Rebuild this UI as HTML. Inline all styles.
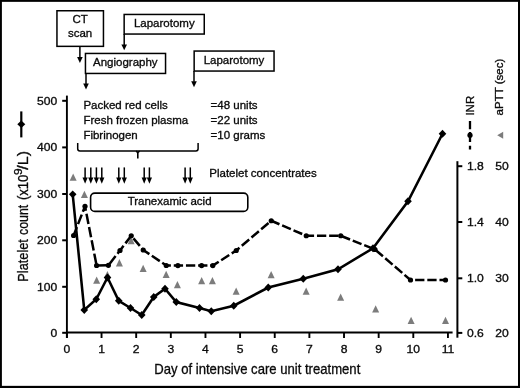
<!DOCTYPE html>
<html lang="en"><head><meta charset="utf-8"><title>Platelet count, INR and aPTT during intensive care unit treatment</title>
<style>
html,body{margin:0;padding:0;background:#fff;}
body{width:520px;height:388px;overflow:hidden;}
svg{display:block;}
text{font-family:"Liberation Sans",sans-serif;fill:#0a0a0a;stroke:#0a0a0a;stroke-width:0.32px;}
.t{font-size:11.5px;}
</style></head><body>
<svg width="520" height="388" viewBox="0 0 520 388">
<rect x="0" y="0" width="520" height="388" fill="#fff"/>
<g>

<rect x="0" y="0" width="520" height="1.85" fill="#000"/>
<rect x="0" y="0" width="1.9" height="388" fill="#000"/>
<rect x="518" y="0" width="2" height="388" fill="#000"/>
<rect x="0" y="385.85" width="520" height="2.15" fill="#000"/>
<path d="M79.90 46.00V57.50" stroke="#000" stroke-width="1.5" fill="none"/>
<path d="M77.10 57.00L82.70 57.00L79.90 62.90Z" fill="#000"/>
<path d="M124.20 34.00V44.90" stroke="#000" stroke-width="1.5" fill="none"/>
<path d="M121.40 44.40L127.00 44.40L124.20 50.30Z" fill="#000"/>
<path d="M86.00 73.00V84.00" stroke="#000" stroke-width="1.5" fill="none"/>
<path d="M83.20 83.50L88.80 83.50L86.00 89.40Z" fill="#000"/>
<path d="M194.00 71.00V81.80" stroke="#000" stroke-width="1.5" fill="none"/>
<path d="M191.20 81.30L196.80 81.30L194.00 87.20Z" fill="#000"/>
<rect x="56.95" y="10.75" width="46.50" height="35.60" rx="0" fill="#fff" stroke="#000" stroke-width="1.5"/>
<rect x="124.15" y="14.45" width="80.10" height="19.60" rx="0" fill="#fff" stroke="#000" stroke-width="1.5"/>
<rect x="85.45" y="53.45" width="80.10" height="20.00" rx="0" fill="#fff" stroke="#000" stroke-width="1.5"/>
<rect x="194.15" y="51.05" width="79.90" height="20.00" rx="0" fill="#fff" stroke="#000" stroke-width="1.5"/>
<text class="t" x="80.10" y="23.30" text-anchor="middle">CT</text>
<text class="t" x="80.10" y="37.00" text-anchor="middle">scan</text>
<text class="t" x="164.30" y="27.10" text-anchor="middle">Laparotomy</text>
<text class="t" x="125.30" y="65.60" text-anchor="middle">Angiography</text>
<text class="t" x="234.00" y="63.70" text-anchor="middle">Laparotomy</text>
<text class="t" x="83.40" y="108.70" text-anchor="start">Packed red cells</text>
<text class="t" x="83.40" y="123.90" text-anchor="start">Fresh frozen plasma</text>
<text class="t" x="83.40" y="139.10" text-anchor="start">Fibrinogen</text>
<text class="t" x="210.60" y="108.70" text-anchor="start">=48 units</text>
<text class="t" x="210.60" y="123.90" text-anchor="start">=22 units</text>
<text class="t" x="210.60" y="139.10" text-anchor="start">=10 grams</text>
<text class="t" x="209.30" y="176.80" text-anchor="start">Platelet concentrates</text>
<path d="M77.7 143V148.7Q77.7 150.9 79.9 150.9H195.9Q198.1 150.9 198.1 148.7V143" stroke="#000" stroke-width="1.5" fill="none"/>
<path d="M135.9 151.2Q137.8 151.6 137.8 153.6V158.5M139.7 151.2Q137.8 151.6 137.8 153.6" stroke="#000" stroke-width="1.6" fill="none"/>
<path d="M85.10 167.40V178.10" stroke="#000" stroke-width="1.5" fill="none"/>
<path d="M82.50 177.60L87.70 177.60L85.10 183.80Z" fill="#000"/>
<path d="M90.80 167.40V178.10" stroke="#000" stroke-width="1.5" fill="none"/>
<path d="M88.20 177.60L93.40 177.60L90.80 183.80Z" fill="#000"/>
<path d="M96.40 167.40V178.10" stroke="#000" stroke-width="1.5" fill="none"/>
<path d="M93.80 177.60L99.00 177.60L96.40 183.80Z" fill="#000"/>
<path d="M101.80 167.40V178.10" stroke="#000" stroke-width="1.5" fill="none"/>
<path d="M99.20 177.60L104.40 177.60L101.80 183.80Z" fill="#000"/>
<path d="M118.80 167.40V178.10" stroke="#000" stroke-width="1.5" fill="none"/>
<path d="M116.20 177.60L121.40 177.60L118.80 183.80Z" fill="#000"/>
<path d="M124.30 167.40V178.10" stroke="#000" stroke-width="1.5" fill="none"/>
<path d="M121.70 177.60L126.90 177.60L124.30 183.80Z" fill="#000"/>
<path d="M144.20 167.40V178.10" stroke="#000" stroke-width="1.5" fill="none"/>
<path d="M141.60 177.60L146.80 177.60L144.20 183.80Z" fill="#000"/>
<path d="M149.40 167.40V178.10" stroke="#000" stroke-width="1.5" fill="none"/>
<path d="M146.80 177.60L152.00 177.60L149.40 183.80Z" fill="#000"/>
<path d="M185.10 167.40V178.10" stroke="#000" stroke-width="1.5" fill="none"/>
<path d="M182.50 177.60L187.70 177.60L185.10 183.80Z" fill="#000"/>
<path d="M190.30 167.40V178.10" stroke="#000" stroke-width="1.5" fill="none"/>
<path d="M187.70 177.60L192.90 177.60L190.30 183.80Z" fill="#000"/>
<rect x="90.60" y="193.10" width="157.20" height="18.30" rx="4.2" fill="#fff" stroke="#000" stroke-width="1.6"/>
<text class="t" x="169.60" y="204.60" text-anchor="middle">Tranexamic acid</text>
<path d="M66.9 95.6V338" stroke="#000" stroke-width="1.9" fill="none"/>
<path d="M66 332.6H452.6" stroke="#000" stroke-width="2" fill="none"/>
<path d="M457.4 161.2V337.7" stroke="#000" stroke-width="2" fill="none"/>
<path d="M62.2 100.80H67" stroke="#000" stroke-width="2" fill="none"/>
<text class="t" transform="translate(57.30 104.80) scale(1.055 1)" text-anchor="end">500</text>
<path d="M62.2 147.40H67" stroke="#000" stroke-width="2" fill="none"/>
<text class="t" transform="translate(57.30 151.40) scale(1.055 1)" text-anchor="end">400</text>
<path d="M62.2 194.00H67" stroke="#000" stroke-width="2" fill="none"/>
<text class="t" transform="translate(57.30 198.00) scale(1.055 1)" text-anchor="end">300</text>
<path d="M62.2 240.30H67" stroke="#000" stroke-width="2" fill="none"/>
<text class="t" transform="translate(57.30 244.30) scale(1.055 1)" text-anchor="end">200</text>
<path d="M62.2 286.80H67" stroke="#000" stroke-width="2" fill="none"/>
<text class="t" transform="translate(57.30 290.80) scale(1.055 1)" text-anchor="end">100</text>
<path d="M62.2 332.80H67" stroke="#000" stroke-width="2" fill="none"/>
<text class="t" transform="translate(57.30 336.80) scale(1.055 1)" text-anchor="end">0</text>
<path d="M66.90 332V338" stroke="#000" stroke-width="1.9" fill="none"/>
<text class="t" transform="translate(66.90 352.70) scale(1.055 1)" text-anchor="middle">0</text>
<path d="M101.54 332V338" stroke="#000" stroke-width="1.9" fill="none"/>
<text class="t" transform="translate(101.54 352.70) scale(1.055 1)" text-anchor="middle">1</text>
<path d="M136.18 332V338" stroke="#000" stroke-width="1.9" fill="none"/>
<text class="t" transform="translate(136.18 352.70) scale(1.055 1)" text-anchor="middle">2</text>
<path d="M170.82 332V338" stroke="#000" stroke-width="1.9" fill="none"/>
<text class="t" transform="translate(170.82 352.70) scale(1.055 1)" text-anchor="middle">3</text>
<path d="M205.46 332V338" stroke="#000" stroke-width="1.9" fill="none"/>
<text class="t" transform="translate(205.46 352.70) scale(1.055 1)" text-anchor="middle">4</text>
<path d="M240.10 332V338" stroke="#000" stroke-width="1.9" fill="none"/>
<text class="t" transform="translate(240.10 352.70) scale(1.055 1)" text-anchor="middle">5</text>
<path d="M274.74 332V338" stroke="#000" stroke-width="1.9" fill="none"/>
<text class="t" transform="translate(274.74 352.70) scale(1.055 1)" text-anchor="middle">6</text>
<path d="M309.38 332V338" stroke="#000" stroke-width="1.9" fill="none"/>
<text class="t" transform="translate(309.38 352.70) scale(1.055 1)" text-anchor="middle">7</text>
<path d="M344.02 332V338" stroke="#000" stroke-width="1.9" fill="none"/>
<text class="t" transform="translate(344.02 352.70) scale(1.055 1)" text-anchor="middle">8</text>
<path d="M378.66 332V338" stroke="#000" stroke-width="1.9" fill="none"/>
<text class="t" transform="translate(378.66 352.70) scale(1.055 1)" text-anchor="middle">9</text>
<path d="M413.30 332V338" stroke="#000" stroke-width="1.9" fill="none"/>
<text class="t" transform="translate(413.30 352.70) scale(1.055 1)" text-anchor="middle">10</text>
<path d="M447.94 332V338" stroke="#000" stroke-width="1.9" fill="none"/>
<text class="t" transform="translate(447.94 352.70) scale(1.055 1)" text-anchor="middle">11</text>
<path d="M457 166.20H462.3" stroke="#000" stroke-width="2" fill="none"/>
<text class="t" transform="translate(467.00 170.20) scale(1.055 1)" text-anchor="start">1.8</text>
<text class="t" transform="translate(495.20 170.20) scale(1.055 1)" text-anchor="start">50</text>
<path d="M457 222.00H462.3" stroke="#000" stroke-width="2" fill="none"/>
<text class="t" transform="translate(467.00 226.00) scale(1.055 1)" text-anchor="start">1.4</text>
<text class="t" transform="translate(495.20 226.00) scale(1.055 1)" text-anchor="start">40</text>
<path d="M457 278.30H462.3" stroke="#000" stroke-width="2" fill="none"/>
<text class="t" transform="translate(467.00 282.30) scale(1.055 1)" text-anchor="start">1.0</text>
<text class="t" transform="translate(495.20 282.30) scale(1.055 1)" text-anchor="start">30</text>
<path d="M457 332.90H462.3" stroke="#000" stroke-width="2" fill="none"/>
<text class="t" transform="translate(467.00 336.90) scale(1.055 1)" text-anchor="start">0.6</text>
<text class="t" transform="translate(495.20 336.90) scale(1.055 1)" text-anchor="start">20</text>
<text x="154.3" y="373.7" font-size="15" textLength="206" lengthAdjust="spacingAndGlyphs">Day of intensive care unit treatment</text>
<text transform="translate(28.30 281.70) rotate(-90)" font-size="15" textLength="42.60" lengthAdjust="spacingAndGlyphs">Platelet</text>
<text transform="translate(28.30 235.00) rotate(-90)" font-size="15" textLength="30.20" lengthAdjust="spacingAndGlyphs">count</text>
<text transform="translate(28.30 200.10) rotate(-90)" font-size="15" textLength="25.50" lengthAdjust="spacingAndGlyphs">(x10</text>
<text transform="translate(22.20 174.90) rotate(-90)" font-size="11" textLength="6.60" lengthAdjust="spacingAndGlyphs">9</text>
<text transform="translate(28.30 169.80) rotate(-90)" font-size="15" textLength="18.80" lengthAdjust="spacingAndGlyphs">/L)</text>
<text class="t" transform="translate(473.7 115.6) rotate(-90)">INR</text>
<text class="t" transform="translate(502.5 115.4) rotate(-90)">aPTT (sec)</text>
<path d="M21.3 111.4V137.4" stroke="#000" stroke-width="2.2" fill="none"/>
<path d="M21.3 120.6L25.3 124.3L21.3 128L17.3 124.3Z" fill="#000"/>
<path d="M470 121V129.3M470 131.9V141.9M470 145.8V149.6" stroke="#000" stroke-width="2.3" fill="none"/>
<circle cx="470" cy="135.2" r="2.6" fill="#000"/>
<path d="M497.2 135.2L503.2 131.7V138.7Z" fill="#7c7c7c"/>
<path d="M73.15 173.50L76.65 180.80H69.65Z" fill="#7c7c7c"/>
<path d="M84.40 190.70L87.90 198.00H80.90Z" fill="#7c7c7c"/>
<path d="M96.65 276.50L100.15 283.80H93.15Z" fill="#7c7c7c"/>
<path d="M107.40 271.00L110.90 278.30H103.90Z" fill="#7c7c7c"/>
<path d="M119.40 259.10L122.90 266.40H115.90Z" fill="#7c7c7c"/>
<path d="M131.15 237.00L134.65 244.30H127.65Z" fill="#7c7c7c"/>
<path d="M143.15 264.75L146.65 272.05H139.65Z" fill="#7c7c7c"/>
<path d="M166.15 270.75L169.65 278.05H162.65Z" fill="#7c7c7c"/>
<path d="M177.40 281.00L180.90 288.30H173.90Z" fill="#7c7c7c"/>
<path d="M201.65 277.00L205.15 284.30H198.15Z" fill="#7c7c7c"/>
<path d="M212.40 277.00L215.90 284.30H208.90Z" fill="#7c7c7c"/>
<path d="M236.15 287.50L239.65 294.80H232.65Z" fill="#7c7c7c"/>
<path d="M271.15 270.90L274.65 278.20H267.65Z" fill="#7c7c7c"/>
<path d="M306.15 287.50L309.65 294.80H302.65Z" fill="#7c7c7c"/>
<path d="M340.65 293.50L344.15 300.80H337.15Z" fill="#7c7c7c"/>
<path d="M375.65 305.25L379.15 312.55H372.15Z" fill="#7c7c7c"/>
<path d="M411.10 316.80L414.60 324.10H407.60Z" fill="#7c7c7c"/>
<path d="M445.50 316.70L449.00 324.00H442.00Z" fill="#7c7c7c"/>
<path d="M73.60 235.50L76.88 227.09M78.03 224.15L81.74 214.64M82.89 211.69L85.00 206.30M85.00 206.30L85.86 210.68M86.47 213.82L88.46 223.95M89.07 227.09L91.06 237.22M91.67 240.36L93.66 250.49M94.27 253.62L96.26 263.75M97.88 265.48L107.18 265.32M109.49 263.91L115.61 256.10M117.50 253.68L120.00 250.50M120.00 250.50L123.57 245.82M125.43 243.38L131.25 235.75M131.25 235.75L131.47 236.01M133.44 238.35L139.81 245.91M141.78 248.25L143.25 250.00M143.25 250.00L149.37 254.12M151.84 255.79L159.79 261.15M162.26 262.81L166.25 265.50M166.25 265.50L170.89 265.54M173.77 265.56L177.90 265.60M177.90 265.60L183.07 265.60M185.95 265.60L195.25 265.60M198.13 265.60L201.60 265.60M201.60 265.60L207.43 265.60M210.31 265.60L212.80 265.60M212.80 265.60L218.69 261.80M221.19 260.20L229.24 255.01M231.74 253.41L236.25 250.50M236.25 250.50L239.50 247.74M241.79 245.79L249.19 239.50M251.48 237.56L258.87 231.27M261.16 229.32L268.56 223.04M270.85 221.09L271.25 220.75M271.25 220.75L279.46 224.27M282.15 225.42L290.83 229.14M293.52 230.29L302.20 234.01M304.89 235.17L306.25 235.75M306.25 235.75L314.09 235.75M316.97 235.75L326.27 235.75M329.15 235.75L338.45 235.75M341.30 235.97L350.05 239.48M352.76 240.57L361.51 244.08M364.22 245.17L372.97 248.68M375.57 249.99L382.94 256.32M385.22 258.28L392.58 264.61M394.86 266.57L402.23 272.90M404.51 274.86L410.50 280.00M410.50 280.00L412.24 280.00M415.12 280.00L424.42 280.00M427.30 280.00L436.60 280.00M439.48 280.00L445.50 280.00" stroke="#000" stroke-width="2.5" fill="none"/>
<circle cx="73.60" cy="235.50" r="2.6" fill="#000"/>
<circle cx="85.00" cy="206.30" r="2.6" fill="#000"/>
<circle cx="96.60" cy="265.50" r="2.6" fill="#000"/>
<circle cx="108.40" cy="265.30" r="2.6" fill="#000"/>
<circle cx="120.00" cy="250.50" r="2.6" fill="#000"/>
<circle cx="131.25" cy="235.75" r="2.6" fill="#000"/>
<circle cx="143.25" cy="250.00" r="2.6" fill="#000"/>
<circle cx="166.25" cy="265.50" r="2.6" fill="#000"/>
<circle cx="177.90" cy="265.60" r="2.6" fill="#000"/>
<circle cx="201.60" cy="265.60" r="2.6" fill="#000"/>
<circle cx="212.80" cy="265.60" r="2.6" fill="#000"/>
<circle cx="236.25" cy="250.50" r="2.6" fill="#000"/>
<circle cx="271.25" cy="220.75" r="2.6" fill="#000"/>
<circle cx="306.25" cy="235.75" r="2.6" fill="#000"/>
<circle cx="340.75" cy="235.75" r="2.6" fill="#000"/>
<circle cx="375.00" cy="249.50" r="2.6" fill="#000"/>
<circle cx="410.50" cy="280.00" r="2.6" fill="#000"/>
<circle cx="445.50" cy="280.00" r="2.6" fill="#000"/>
<path d="M72.70 194.30L84.25 310.00L96.25 299.25L107.50 277.50L118.75 300.75L130.50 308.00L141.75 315.00L153.75 297.00L165.00 288.75L176.25 302.00L199.50 308.00L211.25 311.25L233.75 305.75L268.25 287.50L303.25 278.75L338.00 269.25L373.00 248.25L408.00 201.25L442.50 133.75" stroke="#000" stroke-width="2.55" fill="none" stroke-linejoin="miter"/>
<path d="M72.70 190.40L76.50 194.30L72.70 198.20L68.90 194.30Z" fill="#000"/>
<path d="M84.25 306.10L88.05 310.00L84.25 313.90L80.45 310.00Z" fill="#000"/>
<path d="M96.25 295.35L100.05 299.25L96.25 303.15L92.45 299.25Z" fill="#000"/>
<path d="M107.50 273.60L111.30 277.50L107.50 281.40L103.70 277.50Z" fill="#000"/>
<path d="M118.75 296.85L122.55 300.75L118.75 304.65L114.95 300.75Z" fill="#000"/>
<path d="M130.50 304.10L134.30 308.00L130.50 311.90L126.70 308.00Z" fill="#000"/>
<path d="M141.75 311.10L145.55 315.00L141.75 318.90L137.95 315.00Z" fill="#000"/>
<path d="M153.75 293.10L157.55 297.00L153.75 300.90L149.95 297.00Z" fill="#000"/>
<path d="M165.00 284.85L168.80 288.75L165.00 292.65L161.20 288.75Z" fill="#000"/>
<path d="M176.25 298.10L180.05 302.00L176.25 305.90L172.45 302.00Z" fill="#000"/>
<path d="M199.50 304.10L203.30 308.00L199.50 311.90L195.70 308.00Z" fill="#000"/>
<path d="M211.25 307.35L215.05 311.25L211.25 315.15L207.45 311.25Z" fill="#000"/>
<path d="M233.75 301.85L237.55 305.75L233.75 309.65L229.95 305.75Z" fill="#000"/>
<path d="M268.25 283.60L272.05 287.50L268.25 291.40L264.45 287.50Z" fill="#000"/>
<path d="M303.25 274.85L307.05 278.75L303.25 282.65L299.45 278.75Z" fill="#000"/>
<path d="M338.00 265.35L341.80 269.25L338.00 273.15L334.20 269.25Z" fill="#000"/>
<path d="M373.00 244.35L376.80 248.25L373.00 252.15L369.20 248.25Z" fill="#000"/>
<path d="M408.00 197.35L411.80 201.25L408.00 205.15L404.20 201.25Z" fill="#000"/>
<path d="M442.50 129.85L446.30 133.75L442.50 137.65L438.70 133.75Z" fill="#000"/>
</g></svg></body></html>
